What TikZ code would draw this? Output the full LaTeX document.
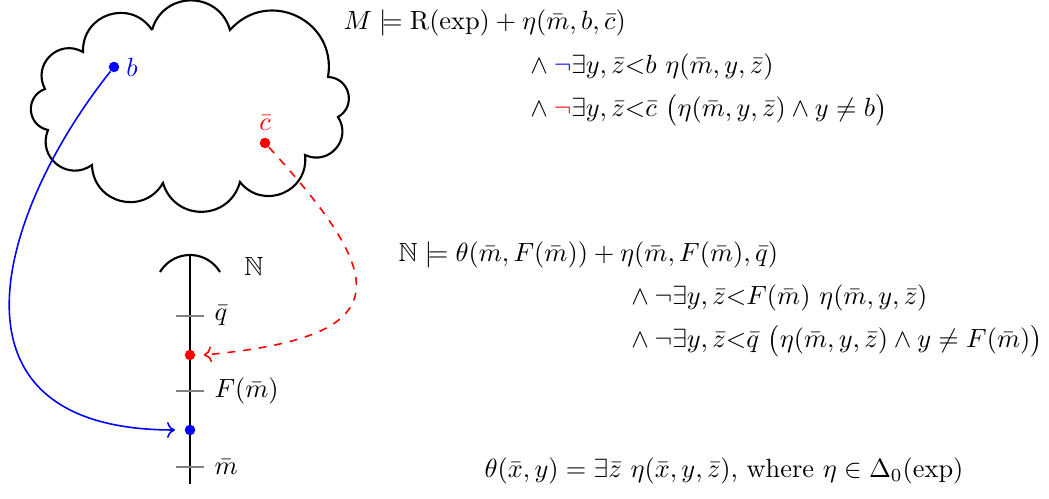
\documentclass[tikz,border=0pt]{standalone}
\usepackage{amsmath,amssymb}
\usetikzlibrary{positioning,arrows.meta}

\begin{document}
\begin{tikzpicture}[
	x=0.38pt,
	y=0.38pt,
	>={To[length=3pt,width=6pt]},
	pt/.style={
		circle,
		fill,
		inner sep=0pt,
		minimum size=4pt
	},
	puff/.style={bend left=74,looseness=1.35},
	notch/.style={gray,semithick},
	formula/.style={anchor=base west,inner sep=0pt}
	]
	
	\useasboundingbox (0,0) rectangle (1049,-499);
	
	% the model M
	\draw[thick] (152,-30) to[puff] (230,-30) to[puff] (328,-77) to[puff] (338,-117)
		to[puff] (305,-155) to[puff] (240,-182) to[puff] (163,-183) to[puff] (92,-165)
		to[puff] (48,-130) to[puff] (45,-89) to[puff] (83,-52) to[puff] (152,-30);
	\node[pt,blue] (b) at (114,-67) {};
	\node[blue,right=-1pt of b] (blab) {$b$};
	\node[pt,red] (c) at (265,-143) {};
	\node[red,above=-1pt of c] (clab) {$\bar c$};
	
	% the standard cut
	\coordinate (top) at (190,-256);
	\coordinate (bot) at (190,-484);
	\draw[thick] (top) -- (bot);
	\draw[thick] (160,-272) arc[start angle=149,end angle=31,radius=35];
	\node (nat) at (254,-266) {$\mathbb{N}$};
	
	\foreach \y/\name/\txt in {316/q/{\bar q},391/f/{F(\bar m)},467/m/{\bar m}} {
		\draw[notch] (176,-\y) -- (204,-\y);
		\node[anchor=west,inner sep=0pt] (\name) at (214,-\y) {$\txt$};
	}
	\node[pt,red] (cn) at (190,-355) {};
	\node[pt,blue] (bn) at (190,-430) {};
	
	% maps
	\draw[->,blue,semithick] (b) .. controls (0,-210) and (-70,-430) .. ([xshift=-3.5pt]bn.west);
	\draw[->,red,semithick,dashed] (c) .. controls (390,-280) and (400,-337) .. ([xshift=3pt]cn.east);
	
	% formulas
	\node[formula] (m1) at (343,-30) {$M \models \mathrm{R}(\exp) + \eta(\bar m, b, \bar c)$};
	\node[formula] (m2) at (524,-74) {${}\land {\color{blue}\neg}\exists y, \bar z{<}b\ \eta(\bar m, y, \bar z)$};
	\node[formula] (m3) at (524,-117) {${}\land {\color{red}\neg}\exists y, \bar z{<}\bar c\ \bigl(\eta(\bar m, y, \bar z) \land y \neq b\bigr)$};
	
	\node[formula] (n1) at (398,-262) {$\mathbb{N} \models \theta(\bar m, F(\bar m)) + \eta(\bar m, F(\bar m), \bar q)$};
	\node[formula] (n2) at (625,-305) {${}\land \neg\exists y, \bar z{<}F(\bar m)\ \eta(\bar m, y, \bar z)$};
	\node[formula] (n3) at (625,-348) {${}\land \neg\exists y, \bar z{<}\bar q\ \bigl(\eta(\bar m, y, \bar z) \land y \neq F(\bar m)\bigr)$};
	
	\node[formula] (def) at (484,-478) {$\theta(\bar x, y) = \exists \bar z\ \eta(\bar x, y, \bar z)$, where $\eta \in \Delta_0(\exp)$};
	
\end{tikzpicture}
\end{document}
